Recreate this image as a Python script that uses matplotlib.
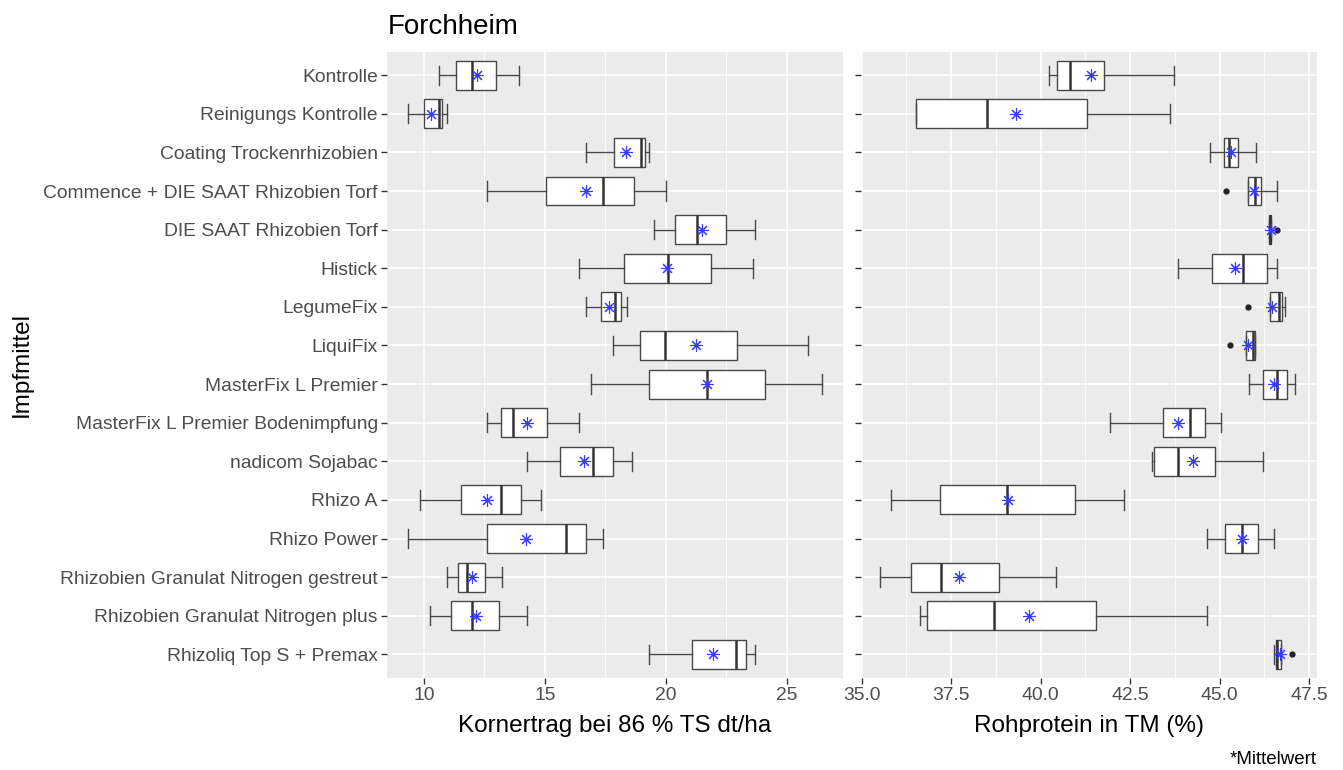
import matplotlib
matplotlib.use("Agg")
import matplotlib.pyplot as plt
from matplotlib.ticker import FixedLocator

plt.rcParams['font.family'] = ['Liberation Sans', 'DejaVu Sans']

categories = ["Kontrolle", "Reinigungs Kontrolle", "Coating Trockenrhizobien",
              "Commence + DIE SAAT Rhizobien Torf", "DIE SAAT Rhizobien Torf", "Histick",
              "LegumeFix", "LiquiFix", "MasterFix L Premier",
              "MasterFix L Premier Bodenimpfung", "nadicom Sojabac", "Rhizo A",
              "Rhizo Power", "Rhizobien Granulat Nitrogen gestreut",
              "Rhizobien Granulat Nitrogen plus", "Rhizoliq Top S + Premax"]

# Kornertrag bei 86 % TS dt/ha
ertrag_lo = [10.62, 9.33, 16.71, 12.62, 19.50, 16.40, 16.71, 17.80, 16.92, 12.62, 14.24, 9.82, 9.33, 10.95, 10.25, 19.30]
ertrag_q1 = [11.32, 9.99, 17.87, 15.03, 20.39, 18.25, 17.30, 18.91, 19.30, 13.17, 15.62, 11.53, 12.62, 11.39, 11.12, 21.07]
ertrag_med = [12.00, 10.61, 18.99, 17.38, 21.27, 20.07, 17.89, 19.97, 21.69, 13.70, 17.00, 13.18, 15.88, 11.79, 12.00, 22.89]
ertrag_q3 = [12.98, 10.76, 19.15, 18.69, 22.49, 21.85, 18.14, 22.93, 24.09, 15.07, 17.80, 14.02, 16.68, 12.54, 13.11, 23.29]
ertrag_hi = [13.91, 10.95, 19.28, 20.00, 23.70, 23.61, 18.39, 25.88, 26.47, 16.40, 18.61, 14.83, 17.41, 13.22, 14.24, 23.70]
ertrag_mean = [12.19, 10.29, 18.33, 16.68, 21.49, 20.03, 17.66, 21.23, 21.69, 14.24, 16.60, 12.62, 14.20, 11.98, 12.15, 21.95]
ertrag_out = [[], [], [], [], [], [], [], [], [], [], [], [], [], [], [], []]

# Rohprotein in TM (%)
protein_lo = [40.23, 36.52, 44.73, 45.79, 46.38, 43.83, 46.40, 45.74, 45.82, 41.94, 43.12, 35.83, 44.64, 35.52, 36.64, 46.51]
protein_q1 = [40.45, 36.52, 45.11, 45.79, 46.38, 44.80, 46.40, 45.74, 46.22, 43.43, 43.18, 37.18, 45.15, 36.38, 36.84, 46.57]
protein_med = [40.81, 38.51, 45.25, 45.99, 46.41, 45.64, 46.65, 45.93, 46.61, 44.16, 43.83, 39.06, 45.62, 37.22, 38.71, 46.60]
protein_q3 = [41.78, 41.29, 45.50, 46.15, 46.44, 46.32, 46.74, 46.00, 46.88, 44.59, 44.88, 40.97, 46.08, 38.85, 41.56, 46.71]
protein_hi = [43.73, 43.61, 46.02, 46.60, 46.44, 46.60, 46.82, 46.00, 47.11, 45.04, 46.22, 42.32, 46.52, 40.43, 44.64, 46.71]
protein_mean = [41.40, 39.30, 45.32, 45.95, 46.44, 45.42, 46.47, 45.80, 46.51, 43.83, 44.26, 39.08, 45.61, 37.73, 39.67, 46.68]
protein_out = [[], [], [], [45.18], [46.60], [], [45.80], [45.29], [], [], [], [], [], [], [], [47.01]]

ertrag_ticks = [10, 15, 20, 25]
ertrag_minor = [12.5, 17.5, 22.5]
protein_ticks = [35.0, 37.5, 40.0, 42.5, 45.0, 47.5]
protein_minor = [36.25, 38.75, 41.25, 43.75, 46.25]

W, H = 1343, 770
fig = plt.figure(figsize=(W / 100, H / 100), dpi=100)

def fx(px):
    return px / W

def fy(py):
    return 1 - py / H

top, bottom = 52, 677.5
ax1 = fig.add_axes([fx(386.7), fy(bottom), fx(843.3 - 386.7), (bottom - top) / H])
ax2 = fig.add_axes([fx(860.5), fy(bottom), fx(1316.7 - 860.5), (bottom - top) / H])

edge = '#484848'
tick_col = '#4D4D4D'

def draw(ax, lo, q1, med, q3, hi, mean, out, xlim, major, minor):
    ax.set_facecolor('#EBEBEB')
    for s in ax.spines.values():
        s.set_visible(False)
    pos = list(range(len(categories)))
    for m in minor:
        ax.axvline(m, color='white', lw=0.6, zorder=0)
    for m in major:
        ax.axvline(m, color='white', lw=1.2, zorder=0)
    for p in pos:
        ax.axhline(p, color='white', lw=1.2, zorder=0)
    stats = []
    for i in range(len(categories)):
        stats.append(dict(whislo=lo[i], q1=q1[i], med=med[i], q3=q3[i], whishi=hi[i],
                          fliers=out[i], label=categories[i]))
    ax.bxp(stats, positions=pos, orientation='horizontal', widths=0.75, capwidths=0.5,
           patch_artist=True, showfliers=True,
           boxprops=dict(facecolor='white', edgecolor=edge, linewidth=1.0),
           whiskerprops=dict(color=edge, linewidth=1.0),
           capprops=dict(color=edge, linewidth=1.0),
           medianprops=dict(color='#333333', linewidth=1.8),
           flierprops=dict(marker='o', markerfacecolor='#222222', markeredgecolor='#222222',
                           markersize=3.5, linestyle='none'))
    ax.plot(mean, pos, linestyle='none', marker=(8, 2, 0), markersize=9,
            markeredgecolor='#3A3AFF', markeredgewidth=0.8, zorder=5)
    ax.set_xlim(*xlim)
    ax.set_ylim(len(categories) - 1 + 0.6, -0.6)
    ax.xaxis.set_major_locator(FixedLocator(major))
    ax.xaxis.set_minor_locator(FixedLocator([]))
    ax.set_yticks(pos)
    ax.tick_params(axis='both', which='major', length=4.3, width=1.0, color='#333333',
                   labelcolor=tick_col, labelsize=13.9, pad=2.2)

draw(ax1, ertrag_lo, ertrag_q1, ertrag_med, ertrag_q3, ertrag_hi, ertrag_mean, ertrag_out,
     (8.46, 27.33), ertrag_ticks, ertrag_minor)
draw(ax2, protein_lo, protein_q1, protein_med, protein_q3, protein_hi, protein_mean, protein_out,
     (34.97, 47.71), protein_ticks, protein_minor)

ax1.set_yticklabels(categories)
ax2.set_yticklabels([''] * len(categories))
ax1.set_xticklabels([str(t) for t in ertrag_ticks])
ax2.set_xticklabels([f"{t:.1f}" for t in protein_ticks])

fig.text(fx(388), fy(27), "Forchheim", fontsize=20, color='black', ha='left', va='center')
fig.text(fx(615), fy(726), "Kornertrag bei 86 % TS dt/ha", fontsize=17.5, color='black',
         ha='center', va='center')
fig.text(fx(1088.6), fy(726), "Rohprotein in TM (%)", fontsize=17.5, color='black',
         ha='center', va='center')
fig.text(fx(22), fy(364.7), "Impfmittel", fontsize=17.5, color='black', rotation=90,
         ha='center', va='center')
fig.text(fx(1316.7), fy(760), "*Mittelwert", fontsize=13.5, color='black', ha='right', va='center')

fig.savefig("out.png", dpi=100)
